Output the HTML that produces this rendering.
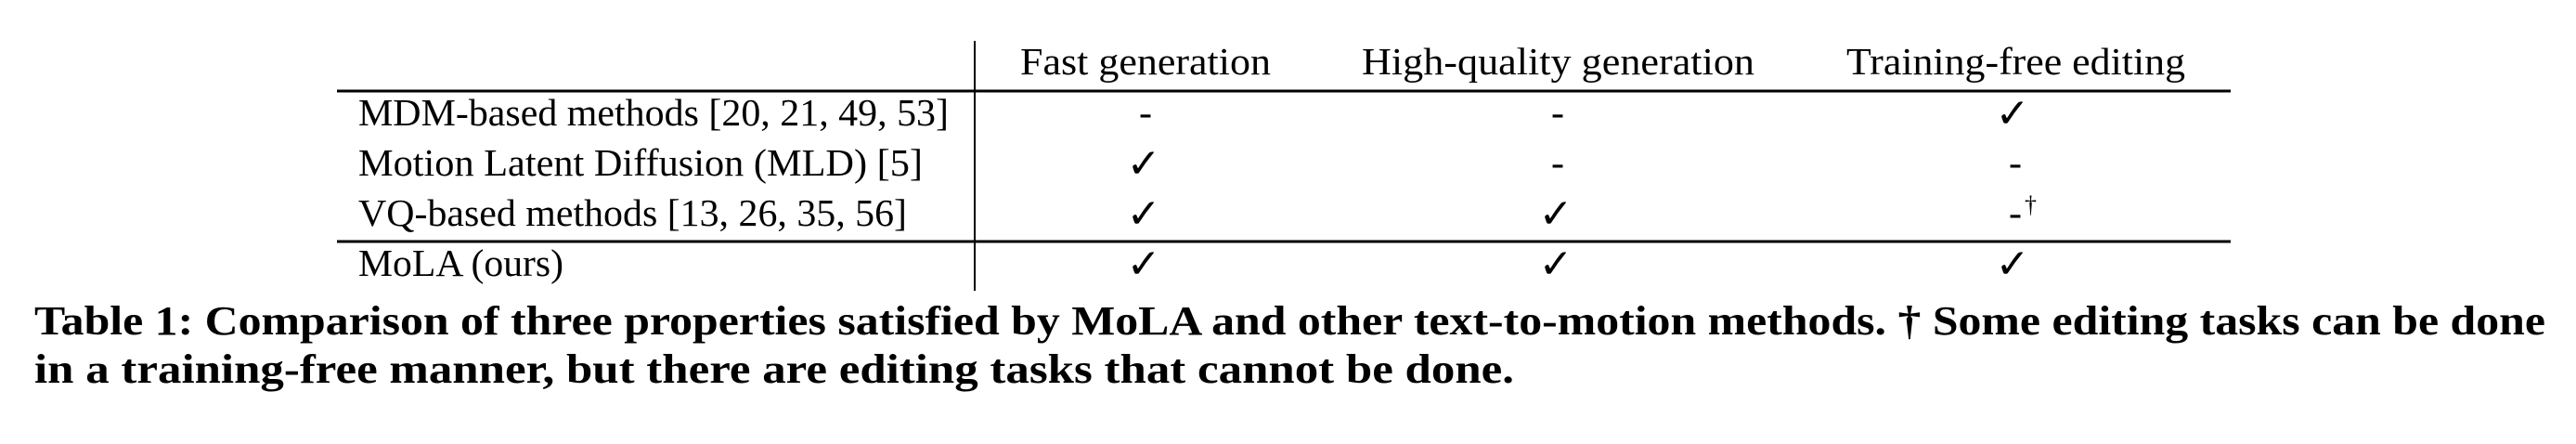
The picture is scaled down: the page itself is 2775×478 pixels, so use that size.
<!DOCTYPE html>
<html><head><meta charset="utf-8"><style>
html,body{margin:0;padding:0;background:#fff;}
svg{display:block;}
text{font-family:"Liberation Serif",serif;fill:#000;}
.h{font-size:41px;}
.c{font-size:42px;text-anchor:middle;}
.k{font-family:"DejaVu Sans",sans-serif;font-size:44px;text-anchor:middle;}
.cap{font-size:44px;font-weight:bold;}
</style></head><body>
<svg width="2775" height="478" viewBox="0 0 2775 478">
<line x1="1050" y1="44" x2="1050" y2="313" stroke="#000" stroke-width="2"/>
<line x1="363" y1="98" x2="2403" y2="98" stroke="#000" stroke-width="3"/>
<line x1="363" y1="260" x2="2403" y2="260" stroke="#000" stroke-width="3"/>
<text class="h" x="1099" y="80" textLength="270" lengthAdjust="spacingAndGlyphs">Fast generation</text>
<text class="h" x="1467" y="80" textLength="423" lengthAdjust="spacingAndGlyphs">High-quality generation</text>
<text class="h" x="1989" y="80" textLength="365" lengthAdjust="spacingAndGlyphs">Training-free editing</text>
<text class="h" x="386" y="135" textLength="636" lengthAdjust="spacingAndGlyphs">MDM-based methods [20, 21, 49, 53]</text>
<text class="h" x="386" y="189" textLength="608" lengthAdjust="spacingAndGlyphs">Motion Latent Diffusion (MLD) [5]</text>
<text class="h" x="386" y="243" textLength="591" lengthAdjust="spacingAndGlyphs">VQ-based methods [13, 26, 35, 56]</text>
<text class="h" x="386" y="297" textLength="221" lengthAdjust="spacingAndGlyphs">MoLA (ours)</text>
<text class="c" x="1234" y="135">-</text>
<text class="c" x="1678" y="135">-</text>
<text class="k" x="2168" y="137">✓</text>
<text class="k" x="1232" y="191">✓</text>
<text class="c" x="1678" y="189">-</text>
<text class="c" x="2171" y="189">-</text>
<text class="k" x="1232" y="245">✓</text>
<text class="k" x="1676" y="245">✓</text>
<text class="c" x="2171" y="243">-</text>
<text x="2181" y="229" style="font-size:26px">†</text>
<text class="k" x="1232" y="299">✓</text>
<text class="k" x="1676" y="299">✓</text>
<text class="k" x="2168" y="299">✓</text>
<text class="cap" x="37" y="360" textLength="2705" lengthAdjust="spacingAndGlyphs">Table 1: Comparison of three properties satisfied by MoLA and other text-to-motion methods. † Some editing tasks can be done</text>
<text class="cap" x="37" y="412" textLength="1594" lengthAdjust="spacingAndGlyphs">in a training-free manner, but there are editing tasks that cannot be done.</text>
</svg>
</body></html>
